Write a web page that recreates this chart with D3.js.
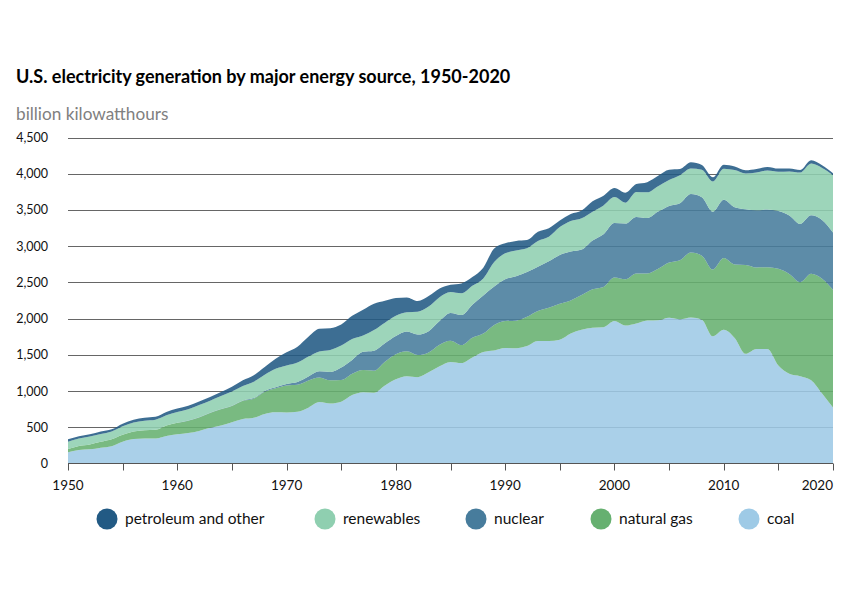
<!DOCTYPE html>
<html>
<head>
<meta charset="utf-8">
<script src="https://cdn.jsdelivr.net/npm/d3@7"></script>
<style>
  html, body { margin: 0; padding: 0; background: #fff; }
  svg { display: block; font-family: Lato, "Open Sans", sans-serif; }
</style>
</head>
<body>
<svg id="chart" width="843" height="596"></svg>
<script>
const years = d3.range(1950, 2021);

const coal = [154.5,185.2,195.4,218.8,239.1,301.4,338.5,346.4,344.4,378.4,
  403.1,421.9,450.2,493.9,526.2,570.9,613.5,630.5,684.9,706.0,
  704.4,713.1,771.1,847.7,828.4,852.8,944.4,985.2,975.7,1075.0,
  1161.6,1203.2,1192.0,1259.4,1341.7,1402.1,1385.8,1463.8,1540.7,1560.0,
  1594.0,1590.6,1621.2,1690.1,1690.7,1709.4,1795.2,1845.0,1873.5,1881.1,
  1966.3,1904.0,1933.1,1973.7,1978.3,2012.9,1990.5,2016.5,1985.8,1755.9,
  1847.3,1733.4,1514.0,1581.1,1581.7,1352.4,1239.1,1205.8,1149.5,965.0,773.4];

const naturalGas = [44.6,57.0,67.7,80.3,94.0,95.3,104.0,114.0,120.0,147.0,
  158.0,169.3,184.3,202.0,221.6,221.6,251.2,264.8,304.4,333.3,
  372.9,374.0,375.7,340.9,320.1,299.8,294.6,305.5,305.4,329.5,
  346.2,345.8,305.3,274.1,297.4,291.9,248.5,272.6,252.8,352.8,
  372.8,381.6,404.1,414.9,460.2,496.1,455.1,479.4,531.3,556.4,
  601.0,639.1,691.0,649.9,710.1,761.0,816.4,896.6,882.9,920.9,
  987.7,1013.7,1225.9,1124.8,1126.6,1334.7,1378.3,1296.4,1469.1,1585.8,1624.2];

const nuclear = [0,0,0,0,0,0,0,0.01,0.2,0.2,
  0.5,1.7,2.3,3.2,3.3,3.7,5.5,7.7,12.5,13.9,
  21.8,38.1,54.1,83.5,114.0,172.5,191.1,250.9,276.4,255.2,
  251.1,272.7,282.8,293.7,327.6,383.7,414.0,455.3,527.0,529.4,
  576.9,612.6,618.8,610.3,640.4,673.4,674.7,628.6,673.7,728.3,
  753.9,768.8,780.1,763.7,788.5,782.0,787.2,806.4,806.2,798.9,
  807.0,790.2,769.3,789.0,797.2,797.2,805.7,805.0,807.1,809.4,789.9];

const renewables = [101,104,110,108,108,116,124,130,140,139,
  150,156,170,168,179,197,198,226,225,255,
  252,268,275,275,305,304,288,224,284,284,
  280,265,315,339,329,289,301,262,234,340,
  357,356,326,356,339,384,423,433,398,396,
  356,289,344,356,351,358,385,352,380,417,
  427,513,494,522,540,544,609,708,714,720,792];

const petroleumOther = [34,29,30,35,31,37,38,41,40,47,
  48,49,49,52,57,65,80,89,104,138,
  184,220,274,314,301,289,320,358,365,304,
  246,206,147,145,120,100,137,119,149,185,
  138,132,114,126,117,90,95,106,143,134,
  125,137,109,140,143,141,86,86,64,57,
  56,50,45,49,49,43,39,35,45,37,28];

const seriesNames = ["coal", "natural gas", "nuclear", "renewables", "petroleum and other"];
const seriesValues = [coal, naturalGas, nuclear, renewables, petroleumOther];
const seriesColors = ["#9ecae6", "#66b070", "#477c9c", "#8fcfb0", "#225a84"];
const legendOrder = ["petroleum and other", "renewables", "nuclear", "natural gas", "coal"];
const yTicks = [0, 500, 1000, 1500, 2000, 2500, 3000, 3500, 4000, 4500];
const xMajorTicks = [1950, 1960, 1970, 1980, 1990, 2000, 2010, 2020];
const xMinorTicks = d3.range(1950, 2021, 5);

const title = "U.S. electricity generation by major energy source, 1950-2020";
const unitLabel = "billion kilowatthours";

// table for the stack
const table = years.map((yr, i) => {
  const row = { year: yr };
  seriesNames.forEach((n, k) => row[n] = seriesValues[k][i]);
  return row;
});

const svg = d3.select("#chart");
const x = d3.scaleLinear().domain([1950, 2020]).range([68, 833]);
const y = d3.scaleLinear().domain([0, 4500]).range([463.5, 137.5]);

svg.append("text").attr("x", 16).attr("y", 83)
  .attr("font-size", 18).attr("font-weight", 700).attr("fill", "#000").text(title);
svg.append("text").attr("x", 16).attr("y", 120)
  .attr("font-size", 17.2).attr("fill", "#808080").text(unitLabel);

// gridlines
svg.append("g").selectAll("line").data(yTicks.filter(d => d > 0)).join("line")
  .attr("x1", 68).attr("x2", 833)
  .attr("y1", d => Math.round(y(d)) + 0.5).attr("y2", d => Math.round(y(d)) + 0.5)
  .attr("stroke", "#666").attr("stroke-width", 1);

// y labels
svg.append("g").selectAll("text").data(yTicks).join("text")
  .attr("x", 48).attr("y", d => y(d) + 4.5)
  .attr("text-anchor", "end").attr("font-size", 12.5).attr("fill", "#111")
  .text(d => d3.format(",")(d));

// stacked areas
const stack = d3.stack().keys(seriesNames);
const layers = stack(table);
const area = d3.area()
  .x(d => x(d.data.year))
  .y0(d => y(d[0])).y1(d => y(d[1]))
  .curve(d3.curveMonotoneX);

svg.append("g").selectAll("path").data(layers).join("path")
  .attr("d", area)
  .attr("fill", (d, i) => seriesColors[i])
  .attr("fill-opacity", 0.88);

// x axis
const xAxis = svg.append("g").attr("transform", "translate(0,463.5)");
xAxis.append("line").attr("x1", 68).attr("x2", 833).attr("stroke", "#555");
xAxis.selectAll("line.tick").data(xMinorTicks).join("line").attr("class", "tick")
  .attr("x1", d => Math.round(x(d)) + 0.5).attr("x2", d => Math.round(x(d)) + 0.5)
  .attr("y1", 0).attr("y2", 7).attr("stroke", "#555");
xAxis.selectAll("text").data(xMajorTicks).join("text")
  .attr("x", d => x(d))
  .attr("y", 26)
  .attr("text-anchor", d => d === 2020 ? "end" : "middle")
  .attr("font-size", 13.5).attr("fill", "#111")
  .text(d => d);

// legend
const legendX = [107, 325, 476, 601, 749];
const legend = svg.append("g").selectAll("g").data(legendOrder).join("g")
  .attr("transform", (d, i) => `translate(${legendX[i]},519)`);
legend.append("circle").attr("r", 10.5)
  .attr("fill", d => seriesColors[seriesNames.indexOf(d)]);
legend.append("text").attr("x", 18).attr("y", 5)
  .attr("font-size", 15.5).attr("fill", "#111").text(d => d);
</script>
</body>
</html>
